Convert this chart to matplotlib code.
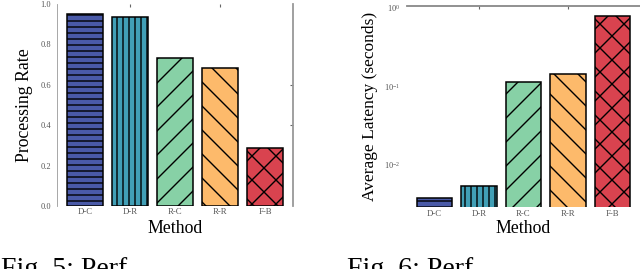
import matplotlib
matplotlib.use("Agg")
import matplotlib.pyplot as plt
import numpy as np

methods = ["D-C", "D-R", "R-C", "R-R", "F-B"]
processing_rate = [0.95, 0.934, 0.731, 0.685, 0.289]
latency = [0.00377, 0.00545, 0.1135, 0.142, 0.79]
colors = ["#4a5aa8", "#419fb6", "#87d1a6", "#fdba6b", "#d9434f"]
hatches = ["--", "||", "/", "\\", "x"]
rate_ticks = [0.0, 0.2, 0.4, 0.6, 0.8, 1.0]
lat_ticks = [1e-2, 1e-1, 1e0]

plt.rcParams["font.family"] = ["Liberation Serif", "DejaVu Serif"]
plt.rcParams["mathtext.fontset"] = "stix"

DPI = 72
k = 100.0 / DPI  # sizes below are given as if at 100 dpi
plt.rcParams["hatch.linewidth"] = 1.0 * k

fig = plt.figure(figsize=(640 / DPI, 269 / DPI), dpi=DPI)
W, H = 640.0, 269.0
ax1 = fig.add_axes([57 / W, 1 - 206 / H, 236 / W, 202 / H])
ax2 = fig.add_axes([407 / W, 1 - 207 / H, 233 / W, 201 / H])

x = np.arange(len(methods))
tick_col = "#555555"
spine_col = "#999999"

def draw(ax, vals):
    bars = ax.bar(x, vals, width=0.8, color=colors, edgecolor="black", linewidth=1.1 * k)
    for b, h in zip(bars, hatches):
        b.set_hatch(h)
    ax.set_xlim(-0.62, 4.62)
    ax.set_xticks(x)
    ax.set_xticklabels(methods, fontsize=6.3 * k, color=tick_col)
    ax.tick_params(axis="x", length=0, pad=1.8 * k)
    ax.tick_params(axis="y", length=0, labelsize=6 * k, labelcolor=tick_col)
    ax.set_xlabel("Method", fontsize=12.8 * k)
    for s in ax.spines.values():
        s.set_visible(False)
    sec = ax.secondary_xaxis("top")
    sec.set_xticks([1, 3])
    sec.set_xticklabels([])
    sec.tick_params(length=2 * k, width=0.8 * k, color="#666666", direction="in")
    sec.spines["top"].set_visible(False)

# Left chart
draw(ax1, processing_rate)
ax1.set_ylim(0, 1.0)
ax1.set_yticks(rate_ticks)
ax1.set_yticklabels([f"{t:.1f}" for t in rate_ticks])
ax1.tick_params(axis="y", pad=4.3 * k)
ax1.spines["left"].set_visible(True)
ax1.spines["left"].set_color(spine_col)
ax1.spines["left"].set_linewidth(0.6 * k)
ax1.spines["right"].set_visible(True)
ax1.spines["right"].set_color(spine_col)
ax1.spines["right"].set_linewidth(1.3 * k)
secy = ax1.secondary_yaxis("right")
secy.set_yticks([0.4, 0.6])
secy.set_yticklabels([])
secy.tick_params(length=2 * k, width=0.8 * k, color="#666666", direction="in")
secy.spines["right"].set_visible(False)
ax1.set_ylabel("Processing Rate", fontsize=12.8 * k)
ax1.yaxis.set_label_coords(-0.10, 0.5)
ax1.xaxis.set_label_coords(0.5, -0.069)

# Right chart
draw(ax2, latency)
ax2.set_yscale("log")
ax2.set_ylim(0.0029, 1.06)
ax2.set_yticks(lat_ticks)
ax2.yaxis.set_minor_locator(matplotlib.ticker.NullLocator())
ax2.tick_params(axis="y", pad=5 * k)
ax2.spines["top"].set_visible(True)
ax2.spines["top"].set_color("#888888")
ax2.spines["top"].set_linewidth(1.3 * k)
ax2.set_ylabel("Average Latency (seconds)", fontsize=12.5 * k)
ax2.yaxis.set_label_coords(-0.124, 0.5)
ax2.xaxis.set_label_coords(0.5, -0.065)

# Captions (cut off at the bottom, as in the reference)
fig.text(1 / W, 1 - 275.5 / H, "Fig. 5: Perf", fontsize=20 * k, va="baseline", ha="left")
fig.text(347 / W, 1 - 275.5 / H, "Fig. 6: Perf", fontsize=20 * k, va="baseline", ha="left")

fig.savefig("out.png", dpi=DPI)
